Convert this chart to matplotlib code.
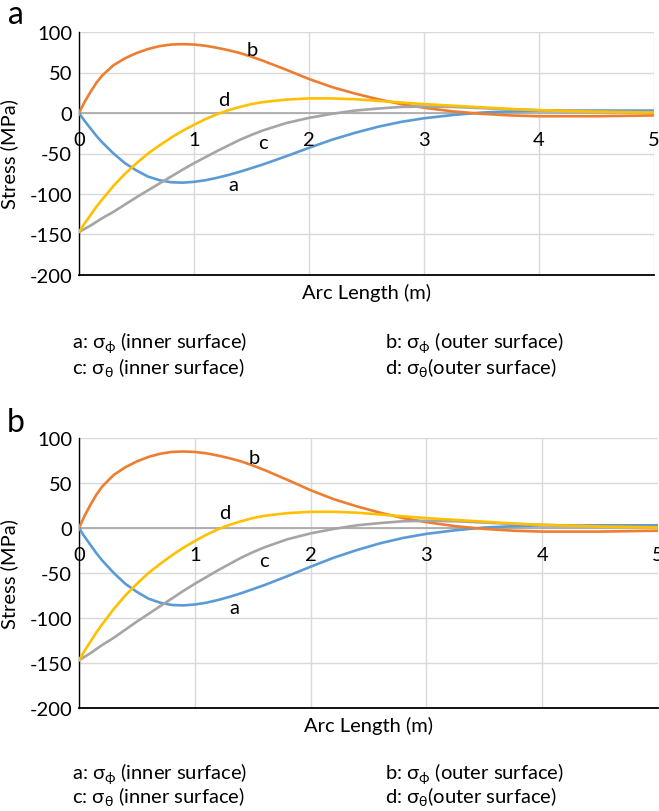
import matplotlib
matplotlib.use('Agg')
import matplotlib.pyplot as plt

plt.rcParams['font.family'] = ['Lato', 'DejaVu Sans']
plt.rcParams['mathtext.fontset'] = 'custom'
plt.rcParams['mathtext.rm'] = 'Lato'
plt.rcParams['mathtext.it'] = 'Lato'
plt.rcParams['axes.unicode_minus'] = False

# Arc length (m)
arc = [0, 0.05, 0.1, 0.15, 0.2, 0.3, 0.4, 0.5, 0.6, 0.7, 0.8, 0.9, 1.0, 1.1, 1.2, 1.3,
       1.4, 1.5, 1.6, 1.8, 2.0, 2.2, 2.4, 2.6, 2.8, 3.0, 3.25, 3.5, 3.75, 4.0, 4.5, 5.0]

# a: sigma_phi inner surface
sig_phi_inner = [0, -10, -19, -28, -36, -50, -62, -71, -78.5, -83, -85.5, -86, -85, -83, -80, -76.5,
                 -72.5, -68, -63.5, -53.5, -43, -33, -24.5, -17, -11, -6.5, -2.5, 0.5, 2, 3, 3, 3]
# b: sigma_phi outer surface
sig_phi_outer = [0, 14, 26, 37, 46, 59, 67.5, 74, 79, 82.5, 84.5, 85, 84.5, 83, 80.5, 77.5,
                 74, 69.5, 64.5, 53.5, 42, 32, 24, 17, 11, 6.5, 2, -1, -3, -4, -4, -3]
# c: sigma_theta inner surface
sig_th_inner = [-147, -143, -139, -134.5, -130, -122, -113, -104, -95.5, -87, -78.5, -70, -62, -54.5, -47, -40,
                -33, -27, -21.5, -12.5, -6, -1, 3, 5.5, 7.5, 8, 7.5, 6, 4.5, 3.5, 2, 1]
# d: sigma_theta outer surface
sig_th_outer = [-147, -136, -126, -116, -107, -90, -75, -62, -50, -40, -30.5, -22, -14.5, -7.5, -1.5, 3.5,
                7.5, 11, 13.5, 16.5, 18, 18, 17, 15, 13, 11, 9, 7, 5, 3.5, 1.5, 0.5]

xticks = [0, 1, 2, 3, 4, 5]
yticks = [-200, -150, -100, -50, 0, 50, 100]

series = [sig_phi_inner, sig_phi_outer, sig_th_inner, sig_th_outer]
colors = ['#5B9BD5', '#ED7D31', '#A5A5A5', '#FFC000']
curve_tags = ['a', 'b', 'c', 'd']
tag_pos = [(1.34, -88), (1.51, 78), (1.6, -36), (1.26, 17)]

legend_rows = [
    [r'a: $\mathregular{\sigma_{\phi}}$ (inner surface)', r'b: $\mathregular{\sigma_{\phi}}$ (outer surface)'],
    [r'c: $\mathregular{\sigma_{\theta}}$ (inner surface)', r'd: $\mathregular{\sigma_{\theta}}$(outer surface)'],
]

W, H = 659, 812
fs = 14.5
fig = plt.figure(figsize=(W / 100, H / 100), dpi=100)

# panel: (label, left, right, top, bottom) in pixels, legend rows y
panels = [
    ('a', 79, 654, 33, 276, (343, 368)),
    ('b', 79, 658, 439, 709, (774, 797)),
]

for name, l, r, t, b, leg_y in panels:
    ax = fig.add_axes([l / W, 1 - b / H, (r - l) / W, (b - t) / H])
    for y, c in zip(series, colors):
        ax.plot(arc, y, color=c, lw=1.9, solid_capstyle='round', zorder=3)
    ax.set_xlim(0, 5)
    ax.set_ylim(-200, 100)
    ax.set_xticks(xticks)
    ax.set_yticks(yticks)
    ax.grid(True, color='#d9d9d9', lw=1)
    ax.axhline(0, color='#a6a6a6', lw=1.2, zorder=2)
    for s in ['top', 'right']:
        ax.spines[s].set_visible(False)
    ax.spines['left'].set_linewidth(1.0)
    ax.spines['bottom'].set_linewidth(1.3)
    ax.tick_params(axis='both', length=0, labelsize=fs)
    ax.tick_params(axis='y', pad=5)
    ax.set_xticklabels([])
    for xt in xticks:
        ax.annotate(str(xt), xy=(xt, 0), xytext=(0, -19), textcoords='offset points',
                    ha='center', va='center', fontsize=fs, annotation_clip=False)
    for tag, (tx, ty) in zip(curve_tags, tag_pos):
        ax.text(tx, ty, tag, fontsize=fs, ha='center', va='center')
    ax.set_ylabel('Stress (MPa)', fontsize=fs)
    ax.yaxis.set_label_coords((18 - l) / (r - l), 0.5)
    ax.set_xlabel('Arc Length (m)', fontsize=fs)
    ax.xaxis.set_label_coords(0.5, -8 / (b - t))

    fig.text(16 / W, 1 - (t - 18 if name == 'a' else t - 16) / H, name,
             fontsize=23, ha='center', va='center')
    for row, yy in zip(legend_rows, leg_y):
        fig.text(72 / W, 1 - yy / H, row[0], fontsize=fs, ha='left', va='center')
        fig.text(385 / W, 1 - yy / H, row[1], fontsize=fs, ha='left', va='center')

fig.savefig('out.png', dpi=100)
